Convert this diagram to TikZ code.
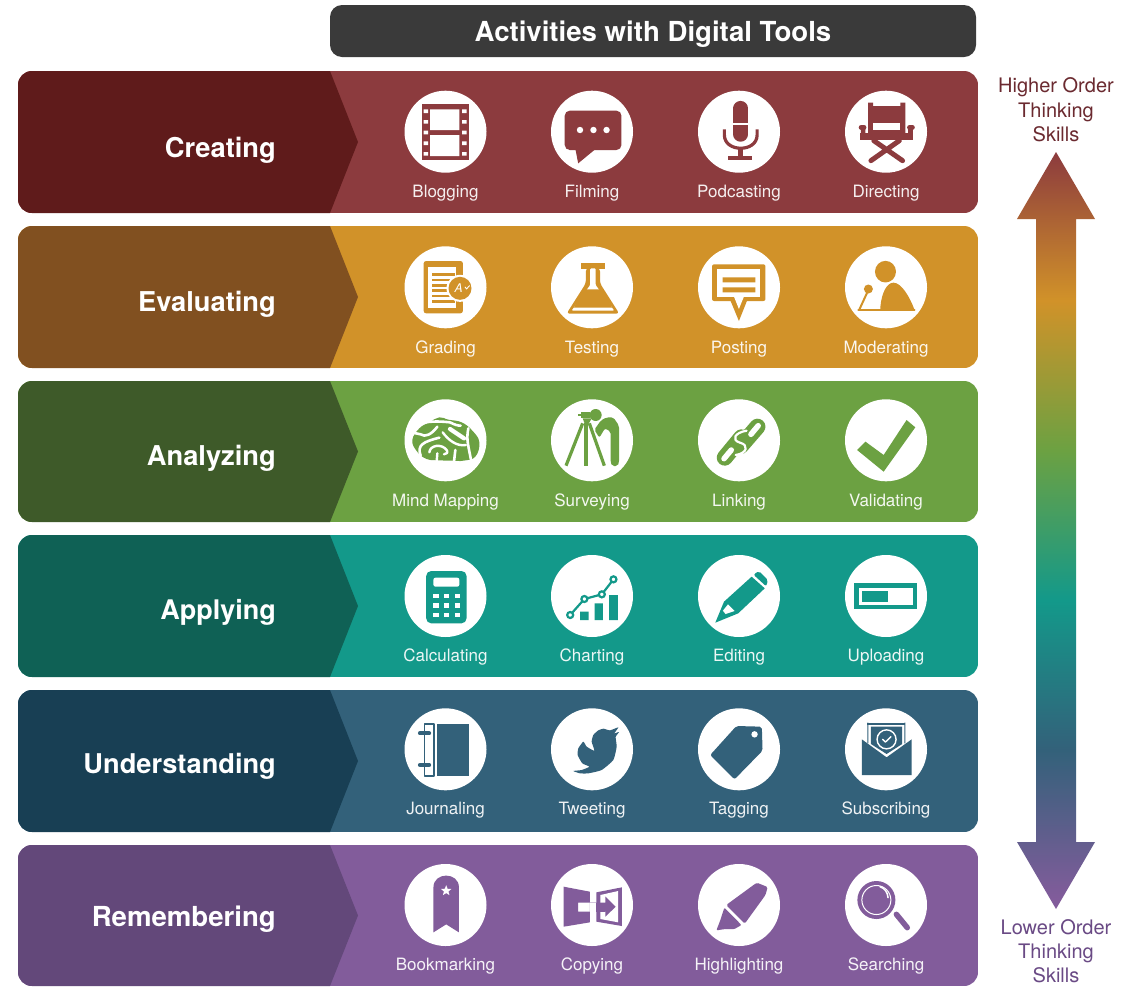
\documentclass[tikz,border=0pt]{standalone}
\usepackage{fontspec}
\setmainfont{TeX Gyre Heros}
\usetikzlibrary{shapes.geometric}
\definecolor{cAd}{HTML}{5F1B1B}\definecolor{cAl}{HTML}{8C3B3E}
\definecolor{cBd}{HTML}{815020}\definecolor{cBl}{HTML}{D19229}
\definecolor{cCd}{HTML}{3E5A29}\definecolor{cCl}{HTML}{6CA142}
\definecolor{cDd}{HTML}{0F6155}\definecolor{cDl}{HTML}{13998A}
\definecolor{cEd}{HTML}{183F54}\definecolor{cEl}{HTML}{33617A}
\definecolor{cFd}{HTML}{63487A}\definecolor{cFl}{HTML}{825C9B}
\definecolor{hdr}{HTML}{3A3A3A}
\definecolor{hitext}{HTML}{6B2A30}
\definecolor{lotext}{HTML}{6A4A85}
\pgfdeclareverticalshading{skills}{100bp}{color(0bp)=(cFl); color(25.6bp)=(cFl); color(35.5bp)=(cEl); color(45.4bp)=(cDl); color(55.3bp)=(cCl); color(65.2bp)=(cBl); color(75bp)=(cAl); color(100bp)=(cAl)}
\newcommand{\bandrow}[5]{% dark, light, top, bottom, middle
  \begin{scope}
    \clip[rounded corners=14pt] (18,#3) rectangle (978,#4);
    \fill[#2] (18,#3) rectangle (978,#4);
    \fill[#1] (18,#3) -- (330,#3) -- (358,#5) -- (330,#4) -- (18,#4) -- cycle;
  \end{scope}}
\newcommand{\rowt}[4]{\node[rowtitle,font=\bfseries\fontsize{#3}{#3}\selectfont] (#1) at (276,#2) {#4};}
\newcommand{\lbl}[4]{\node[lab] (#1) at (#2,#3) {#4};}
\newcommand{\disc}[2]{\fill[white] (#1,#2) circle (41pt);}
\begin{document}
\begin{tikzpicture}[x=1pt,y=-1pt,
  rowtitle/.style={anchor=base east,text=white,inner sep=0pt},
  lab/.style={anchor=base,text=white,text opacity=.92,inner sep=0pt,font=\fontsize{17}{20}\selectfont},
  side/.style={anchor=base,inner sep=0pt,font=\fontsize{20}{24}\selectfont},
  rowz/.style={shift={(380,#1)},x=.36364pt,y=-.33333pt},
  fine/.style={shift={(#1)},x=.33333pt,y=-.33333pt},
  ico/.style={fill=bandc},
  stroke/.style={draw=bandc,line width=#1,line cap=round,line join=round},
  wstroke/.style={draw=white,line width=#1,line cap=round,line join=round}]
\useasboundingbox (0,0) rectangle (1135,986);
\fill[white] (0,0) rectangle (1135,986);
% header
\fill[hdr,rounded corners=12pt] (330,5) rectangle (976,57);
\node[anchor=base,text=white,inner sep=0pt,font=\bfseries\fontsize{27.6}{30}\selectfont] (header) at (653,41) {Activities with Digital Tools};
% bands
\bandrow{cAd}{cAl}{71}{213}{142}
\bandrow{cBd}{cBl}{226}{368}{297}
\bandrow{cCd}{cCl}{381}{522}{451.5}
\bandrow{cDd}{cDl}{535}{677}{606}
\bandrow{cEd}{cEl}{690}{832}{761}
\bandrow{cFd}{cFl}{845}{986}{915.5}
\rowt{t1}{157}{27.3}{Creating}
\rowt{t2}{311}{27.3}{Evaluating}
\rowt{t3}{465}{27.3}{Analyzing}
\rowt{t4}{619}{27.0}{Applying}
\rowt{t5}{773}{27.2}{Understanding}
\rowt{t6}{926}{27.6}{Remembering}
% discs
\foreach \yy in {131.7,287.3,440.3,596,749.3,905}{
  \foreach \xx in {445.5,592,739,886}{\disc{\xx}{\yy}}}
% labels
\lbl{l11}{445.5}{197.5}{Blogging}\lbl{l12}{592}{197.5}{Filming}\lbl{l13}{739}{197.5}{Podcasting}\lbl{l14}{886}{197.5}{Directing}
\lbl{l21}{445.5}{353}{Grading}\lbl{l22}{592}{353}{Testing}\lbl{l23}{739}{353}{Posting}\lbl{l24}{886}{353}{Moderating}
\lbl{l31}{445.5}{506.3}{Mind Mapping}\lbl{l32}{592}{506.3}{Surveying}\lbl{l33}{739}{506.3}{Linking}\lbl{l34}{886}{506.3}{Validating}
\lbl{l41}{445.5}{661.7}{Calculating}\lbl{l42}{592}{661.7}{Charting}\lbl{l43}{739}{661.7}{Editing}\lbl{l44}{886}{661.7}{Uploading}
\lbl{l51}{445.5}{814.7}{Journaling}\lbl{l52}{592}{814.7}{Tweeting}\lbl{l53}{739}{814.7}{Tagging}\lbl{l54}{886}{814.7}{Subscribing}
\lbl{l61}{445.5}{970.7}{Bookmarking}\lbl{l62}{592}{970.7}{Copying}\lbl{l63}{739}{970.7}{Highlighting}\lbl{l64}{886}{970.7}{Searching}
% ---------- row 1
\colorlet{bandc}{cAl}
\begin{scope}[rowz=80]
  % film
  \fill[ico] (115,72) rectangle (245,240);
  \fill[white] (138,88) rectangle (218,150) (138,165) rectangle (218,228);
  \foreach \Y in {88,120,152,184,216}{\fill[white] (120,\Y) rectangle ++(12,11) (226,\Y) rectangle ++(12,11);}
  % bubble
  \fill[ico,rounded corners=5pt] (508,92) rectangle (664,210);
  \fill[ico] (536,200) -- (545,250) -- (595,205) -- cycle;
  \foreach \X in {550,587,623}{\fill[white] (\X,150) circle (3.2pt);}
  % mic
  \draw[stroke=14.8pt] (992,85) -- (992,163);
  \fill[white] (965,128) rectangle (1020,134);
  \draw[stroke=3.2pt,line cap=butt] (947,148) -- (947,165) .. controls (947,218) and (1037,218) .. (1037,165) -- (1037,148);
  \fill[ico] (985,205) rectangle (999,232);
  \fill[ico] (958,228) rectangle (1022,240);
  % chair
  \fill[ico] (1342,80) -- (1342,68) -- (1356,68) -- (1356,78) -- (1431,78) -- (1431,68) -- (1445,68) -- (1445,170) -- (1342,170) -- cycle;
  \fill[white] (1355,130) rectangle (1430,150);
  \fill[ico] (1320,160) rectangle (1466,181);
  \draw[stroke=4.8pt] (1323,142) -- (1331,142) (1464,142) -- (1456,142);
  \fill[ico] (1322,142) rectangle (1335,170) (1452,142) rectangle (1465,170);
  \draw[stroke=5pt] (1350,242) -- (1428,182) (1437,242) -- (1358,182);
\end{scope}
% ---------- row 2
\colorlet{bandc}{cBl}
\begin{scope}[rowz=235]
  % grading
  \fill[ico,rounded corners=2.5pt] (120,78) rectangle (228,235);
  \fill[white] (132,95) rectangle (210,218);
  \foreach \Y in {115,131,147,163,179,195}{\fill[ico] (142,\Y) rectangle (205,\Y+8);}
  \fill[white] (220,160) circle (13.5pt);
  \fill[ico] (220,160) circle (11.5pt);
  \node[text=white,inner sep=0pt,font=\itshape\fontsize{12}{12}\selectfont] (gradeA) at (216,158) {A};
  \draw[wstroke=.9pt] (234,156) -- (238,162) -- (246,152);
  % flask
  \fill[ico] (553,83) rectangle (618,102);
  \fill[ico,rounded corners=3pt] (566,100) -- (605,100) -- (605,145) -- (658,236) -- (513,236) -- (566,145) -- cycle;
  \fill[white,rounded corners=1pt] (578,100) -- (593,100) -- (593,150) -- (644,227) -- (527,227) -- (578,150) -- cycle;
  \fill[ico] (560,163) -- (612,163) -- (638,218) -- (533,218) -- cycle;
  % post
  \fill[ico,rounded corners=2pt] (913,88) rectangle (1060,198);
  \fill[ico] (963,195) -- (987,258) -- (1010,195) -- cycle;
  \fill[white] (927,102) rectangle (1046,186);
  \fill[white] (973,184) -- (987,222) -- (1001,184) -- cycle;
  \fill[ico] (942,127) rectangle (1032,142) (942,157) rectangle (1032,172);
  % moderator
  \fill[ico] (1390,110) ellipse [x radius=10.5pt,y radius=10.8pt];
  \fill[ico] (1376,215) .. controls (1380,170) and (1395,143) .. (1412,143) .. controls (1435,143) and (1458,190) .. (1469,222) -- (1376,222) -- cycle;
  \draw[stroke=1.8pt] (1315,224) -- (1470,224);
  \fill[ico] (1343,162) circle (4.5pt);
  \draw[stroke=2pt] (1340,172) -- (1318,224);
\end{scope}
% ---------- row 3
\colorlet{bandc}{cCl}
\begin{scope}[fine={400,395}]
  \fill[ico] plot[smooth cycle,tension=.7] coordinates {(37,135)(58,100)(88,82)(118,67)(145,74)(185,82)(218,108)(238,142)(226,185)(190,197)(160,197)(120,196)(80,192)(50,168)};
  \draw[wstroke=2.6pt] (58,86) .. controls (95,76) and (130,80) .. (150,82) .. controls (165,90) and (175,92) .. (182,92);
  \draw[wstroke=4.2pt] (150,102) -- (192,130);
  \draw[wstroke=2.6pt] (205,100) .. controls (198,135) and (205,150) .. (214,200);
  \draw[wstroke=2.6pt] (34,112) -- (62,118) .. controls (75,128) and (95,118) .. (112,95);
  \draw[wstroke=2.4pt] (128,112) .. controls (145,135) and (170,155) .. (198,150);
  \draw[wstroke=2.6pt] (62,182) .. controls (50,150) and (70,140) .. (118,128);
  \draw[wstroke=2.4pt] (88,172) .. controls (90,150) and (125,145) .. (140,165) .. controls (145,172) and (140,178) .. (132,178);
  \draw[wstroke=2.6pt] (166,165) -- (162,200);
  \draw[wstroke=2.4pt] (112,175) -- (110,200);
\end{scope}
\begin{scope}[fine={545,395}]
  \fill[ico] (152,60) circle (6pt);
  \fill[ico] (108,50) rectangle (135,68);
  \fill[ico] (100,56) rectangle (110,63);
  \fill[ico,rounded corners=2pt] (168,76) -- (185,67) -- (205,67) -- (222,92) -- (222,203) -- (218,213) -- (201,213) -- (197,203) -- (197,110) -- (180,100) -- (163,128) -- (148,104) -- cycle;
  \fill[ico] (113,70) -- (140,70) -- (130,88) -- (120,88) -- cycle;
  \draw[stroke=3.2pt,line cap=butt] (113,85) -- (63,212);
  \draw[stroke=3.4pt,line cap=butt] (123,85) -- (123,212);
  \draw[stroke=3.2pt,line cap=butt] (133,85) -- (178,212);
\end{scope}
\begin{scope}[rowz=390]
  % link
  \draw[stroke=16pt] (1038,110) -- (992,168);
  \draw[stroke=16pt] (948,203) -- (994,142);
  \draw[wstroke=5.5pt] (1040,107) -- (1020,133);
  \draw[wstroke=5.5pt] (946,206) -- (966,180);
  \draw[wstroke=2.2pt] (1008,122) .. controls (975,128) and (965,150) .. (990,158) .. controls (1015,165) and (1010,190) .. (978,195);
  % check
  \fill[ico] (1335,155) -- (1312,180) -- (1385,245) -- (1472,112) -- (1448,90) -- (1385,195) -- cycle;
\end{scope}
% ---------- row 4
\colorlet{bandc}{cDl}
\begin{scope}[rowz=545]
  \fill[ico,rounded corners=5pt] (127,78) rectangle (238,235);
  \fill[white,rounded corners=2pt] (147,98) rectangle (218,125);
  \foreach \X in {147,175,205}{\foreach \Y in {147,175,203}{\fill[white] (\X,\Y) rectangle ++(15,13);}}
  % chart
  \fill[ico] (550,200) rectangle (574,225) (590,175) rectangle (613,225) (630,150) rectangle (654,225);
  \draw[stroke=2.2pt] (523,210) -- (562,162) -- (610,148) -- (642,103);
  \foreach \p in {(523,210),(562,162),(610,148),(642,103)}{\filldraw[fill=white,draw=bandc,line width=2.2pt] \p circle (3pt);}
  % pencil
  \fill[ico] (946,170) -- (1022,95) -- (1058,130) -- (985,205) -- (922,233) -- cycle;
  \fill[white] (943,197) -- (957,178) -- (975,198) -- (950,207) -- cycle;
  \fill[ico,rounded corners=2pt] (1027,89) -- (1042,78) -- (1067,105) -- (1062,124) -- cycle;
  % upload
  \fill[ico] (1303,115) rectangle (1478,193);
  \fill[white] (1318,130) rectangle (1465,180);
  \fill[ico] (1325,138) rectangle (1398,172);
\end{scope}
% ---------- row 5
\colorlet{bandc}{cEl}
\begin{scope}[rowz=700]
  \fill[ico] (157,72) rectangle (245,228);
  \draw[stroke=1.7pt,line cap=butt] (122,73) -- (148,73) -- (148,227) -- (122,227) -- cycle;
  \foreach \Y in {100,195}{\draw[stroke=4.2pt] (110,\Y) -- (135,\Y);}
  % tag
  \fill[ico,rounded corners=2pt] (1050,80) -- (980,78) -- (908,165) -- (975,238) -- (1052,152) -- cycle;
  \fill[white] (1030,103) circle (3.2pt);
  % envelope
  \fill[ico] (1340,68) rectangle (1445,75);
  \fill[ico] (1340,68) rectangle (1343,130) (1442,68) rectangle (1445,130);
  \fill[ico] (1350,80) -- (1436,80) -- (1436,132) -- (1393,162) -- (1350,132) -- cycle;
  \draw[wstroke=1.4pt] (1393,118) ellipse [x radius=9.5pt,y radius=9.5pt];
  \draw[wstroke=1.4pt] (1382,118) -- (1390,126) -- (1405,110);
  \fill[ico] (1325,118) -- (1393,172) -- (1462,118) -- (1462,225) -- (1325,225) -- cycle;
\end{scope}
\begin{scope}[fine={545,705}]
  \fill[ico] plot[smooth cycle,tension=.3] coordinates {(175,71)(195,76)(220,67)(208,85)(222,81)(212,96)(215,125)(205,165)(170,195)(130,205)(105,205)(85,198)(110,195)(133,185)(112,175)(98,150)(100,130)(115,110)(125,125)(148,137)(140,110)(145,90)(160,76)};
\end{scope}
% ---------- row 6
\colorlet{bandc}{cFl}
\begin{scope}[rowz=855]
  \fill[ico] (147,232) -- (147,97) .. controls (147,50) and (217,50) .. (217,97) -- (217,232) -- (182,208) -- cycle;
  \node[star,star points=5,star point ratio=2.3,fill=white,inner sep=0pt,minimum size=11pt] (bmstar) at (182,107) {};
  % copying
  \fill[ico] (505,95) -- (577,110) -- (577,143) -- (545,143) -- (545,170) -- (577,170) -- (577,202) -- (505,215) -- cycle;
  \fill[ico] (595,112) -- (665,97) -- (665,213) -- (595,200) -- cycle;
  \fill[white] (606,120) -- (655,108) -- (655,202) -- (606,192) -- cycle;
  \fill[ico] (577,143) -- (620,143) -- (620,125) -- (648,155) -- (620,185) -- (620,170) -- (577,170) -- cycle;
  \fill[white] (577,170) rectangle (595,143);
  \fill[ico] (595,143) rectangle (620,170);
  % marker
  \fill[ico,rounded corners=1.5pt] (1036,83) -- (1066,96) -- (1060,120) -- (1003,206) -- (952,150) -- cycle;
  \fill[ico,rounded corners=1pt] (947,158) -- (994,210) -- (975,222) -- (950,222) -- (925,226) -- (935,198) -- cycle;
  % magnifier
  \fill[ico] (1365,135) circle (19pt);
  \draw[wstroke=1pt] (1365,135) circle (14.5pt);
  \draw[wstroke=1.5pt] (1375,95) .. controls (1388,100) and (1396,112) .. (1397,128);
  \draw[stroke=5.5pt] (1420,178) -- (1450,218);
\end{scope}
% arrow
\path[shading=skills] (1056,152) -- (1095,219) -- (1076,219) -- (1076,842) -- (1095,842) -- (1056,909) -- (1017,842) -- (1036,842) -- (1036,219) -- (1017,219) -- cycle;
% side text
\node[side,text=hitext] (hi1) at (1056,92) {Higher Order};
\node[side,text=hitext] (hi2) at (1056,117.5) {Thinking};
\node[side,text=hitext] (hi3) at (1056,141) {Skills};
\node[side,text=lotext] (lo1) at (1056,934) {Lower Order};
\node[side,text=lotext] (lo2) at (1056,958.5) {Thinking};
\node[side,text=lotext] (lo3) at (1056,982.5) {Skills};
\end{tikzpicture}
\end{document}
